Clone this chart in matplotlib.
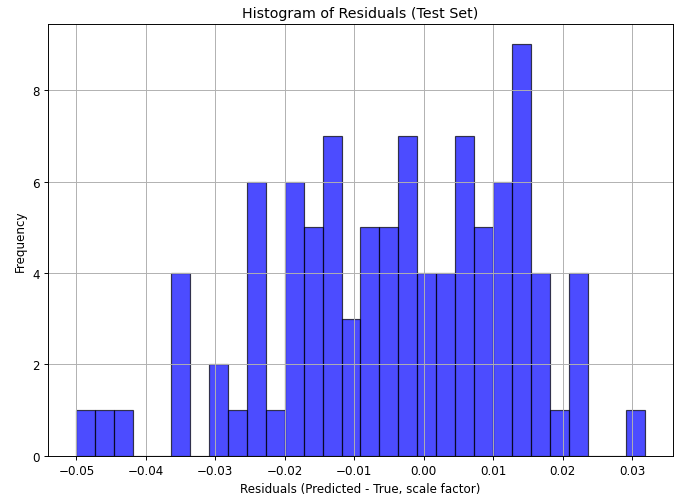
import numpy as np
import matplotlib
matplotlib.use("Agg")
import matplotlib.pyplot as plt

# histogram of residuals, 30 bins
bin_start = -0.0500
bin_end = 0.0318
counts = [1, 1, 1, 0, 0, 4, 0, 2, 1, 6,
          1, 6, 5, 7, 3, 5, 5, 7, 4, 4,
          7, 5, 6, 9, 4, 1, 4, 0, 0, 1]

edges = np.linspace(bin_start, bin_end, len(counts) + 1)
centers = (edges[:-1] + edges[1:]) / 2

fig, ax = plt.subplots(figsize=(8, 5.784), dpi=85.75)
ax.hist(centers, bins=edges, weights=counts, color='blue', alpha=0.7, edgecolor='black')
ax.set_title('Histogram of Residuals (Test Set)')
ax.set_xlabel('Residuals (Predicted - True, scale factor)')
ax.set_ylabel('Frequency')
ax.grid(True)
fig.subplots_adjust(left=0.070, right=0.981, top=0.950, bottom=0.079)
fig.savefig('out.png', dpi=85.75)
